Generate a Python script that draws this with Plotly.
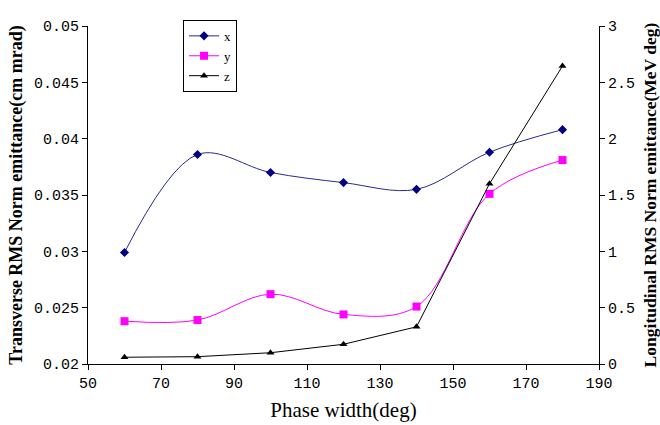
import plotly.graph_objects as go

phase = [60, 80, 100, 120, 140, 160, 180]
x_emit = [0.0299, 0.0386, 0.0370, 0.0361, 0.0355, 0.0388, 0.0408]
y_emit = [0.0238, 0.0239, 0.0262, 0.0244, 0.0251, 0.0351, 0.0381]
z_emit = [0.06, 0.065, 0.10, 0.175, 0.33, 1.60, 2.645]

x_ticks = [50, 70, 90, 110, 130, 150, 170, 190]
left_ticks = [0.02, 0.025, 0.03, 0.035, 0.04, 0.045, 0.05]
left_labels = ["0.02", "0.025", "0.03", "0.035", "0.04", "0.045", "0.05"]
right_ticks = [0, 0.5, 1, 1.5, 2, 2.5, 3]
right_labels = ["0", "0.5", "1", "1.5", "2", "2.5", "3"]

fig = go.Figure()
fig.add_trace(go.Scatter(x=phase, y=x_emit, name="x", mode="lines+markers",
                         line=dict(color="#2a2a90", width=1, shape="spline", smoothing=1),
                         marker=dict(symbol="diamond", size=7, color="#000080")))
fig.add_trace(go.Scatter(x=phase, y=y_emit, name="y", mode="lines+markers",
                         line=dict(color="#ff00ff", width=1, shape="spline", smoothing=1),
                         marker=dict(symbol="square", size=8, color="#ff00ff")))
fig.add_trace(go.Scatter(x=phase, y=z_emit, name="z", mode="lines+markers", yaxis="y2",
                         line=dict(color="#000000", width=1),
                         marker=dict(symbol="triangle-up", size=7, color="#000000")))

tickfont = dict(family="Liberation Mono, monospace", size=15, color="#000")
ytitlefont = dict(family="Liberation Serif, serif", size=18, color="#000")
y2titlefont = dict(family="Liberation Serif, serif", size=17.5, color="#000")
xtitlefont = dict(family="Liberation Serif, serif", size=21, color="#000")

fig.update_layout(
    width=660, height=425,
    margin=dict(l=88, r=61, t=26, b=61),
    paper_bgcolor="white", plot_bgcolor="white",
    showlegend=True,
    legend=dict(x=0.186, y=1.018, xanchor="left", yanchor="top",
                bordercolor="#000", borderwidth=1, bgcolor="white",
                font=dict(family="Liberation Serif, serif", size=13, color="#000"),
                tracegroupgap=0, itemwidth=30),
    xaxis=dict(range=[50, 190], tickvals=x_ticks, ticktext=[str(v) for v in x_ticks],
               showline=True, linecolor="#000", linewidth=1, ticks="outside",
               ticklen=5, tickcolor="#000", showgrid=False, zeroline=False,
               tickfont=tickfont, automargin=False,
               title=dict(text="Phase width(deg)", font=xtitlefont, standoff=10)),
    yaxis=dict(range=[0.02, 0.05], tickvals=left_ticks, ticktext=left_labels,
               showline=True, linecolor="#000", linewidth=1, ticks="outside",
               ticklen=5, tickcolor="#000", showgrid=False, zeroline=False,
               tickfont=tickfont, automargin=False,
               title=dict(text="<b>Transverse RMS Norm emittance(cm mrad)</b>",
                          font=ytitlefont, standoff=6)),
    yaxis2=dict(range=[0, 3], tickvals=right_ticks, ticktext=right_labels,
                overlaying="y", side="right",
                showline=True, linecolor="#000", linewidth=1, ticks="outside",
                ticklen=5, tickcolor="#000", showgrid=False, zeroline=False,
                tickfont=tickfont, automargin=False,
                title=dict(text="<b>Longitudinal RMS Norm emittance(MeV deg)</b>",
                           font=y2titlefont, standoff=10)),
)

fig.write_html("out.html")
